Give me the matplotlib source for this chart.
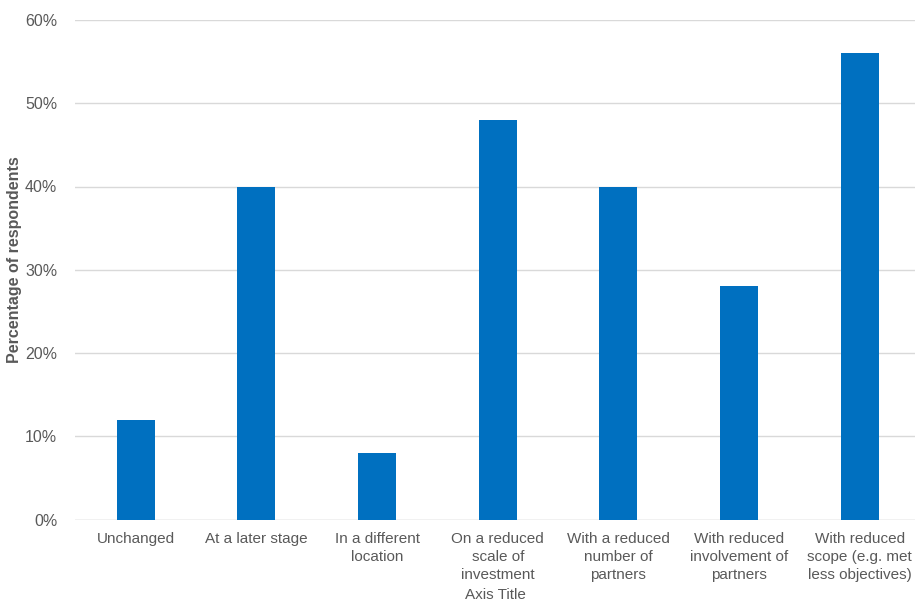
import matplotlib
matplotlib.use("Agg")
import matplotlib.pyplot as plt
from matplotlib.ticker import PercentFormatter

categories = [
    "Unchanged",
    "At a later stage",
    "In a different\nlocation",
    "On a reduced\nscale of\ninvestment",
    "With a reduced\nnumber of\npartners",
    "With reduced\ninvolvement of\npartners",
    "With reduced\nscope (e.g. met\nless objectives)",
]
values = [12, 40, 8, 48, 40, 28, 56]
y_ticks = [0, 10, 20, 30, 40, 50, 60]

plt.rcParams["font.family"] = ["Liberation Sans", "DejaVu Sans"]
text_color = "#595959"
grid_color = "#D9D9D9"
bar_color = "#0070C0"

W, H = 915, 601
fig = plt.figure(figsize=(W / 100, H / 100), dpi=100)
left, right = 75.3, 915.0
top, bottom = 20.0, 519.5
ax = fig.add_axes([left / W, 1 - bottom / H, (right - left) / W, (bottom - top) / H])

slot = 120.7
x = list(range(len(categories)))
ax.bar(x, values, width=38 / slot, color=bar_color, zorder=3)

ax.set_xlim(-0.5, -0.5 + (right - left) / slot)
ax.set_ylim(0, 60)
ax.set_yticks(y_ticks)
ax.yaxis.set_major_formatter(PercentFormatter(decimals=0))
ax.grid(axis="y", color=grid_color, linewidth=1, zorder=0)
ax.set_axisbelow(True)

for s in ["top", "right", "left", "bottom"]:
    ax.spines[s].set_visible(False)
ax.axhline(0, color=grid_color, linewidth=1, zorder=1)

ax.set_xticks(x)
ax.set_xticklabels(categories, fontsize=11, color=text_color, linespacing=1.36, va="top")
ax.tick_params(axis="x", length=0, pad=9)
ax.tick_params(axis="y", length=0, pad=13, labelsize=11.5, labelcolor=text_color)

fig.text((left + right) / 2 / W, 1 - 595 / H, "Axis Title", ha="center", va="center",
         fontsize=11, color=text_color)
fig.text(15 / W, 1 - 260 / H, "Percentage of respondents", rotation=90, ha="center",
         va="center", fontsize=11.5, fontweight="bold", color=text_color)

fig.savefig("out.png", dpi=100)
